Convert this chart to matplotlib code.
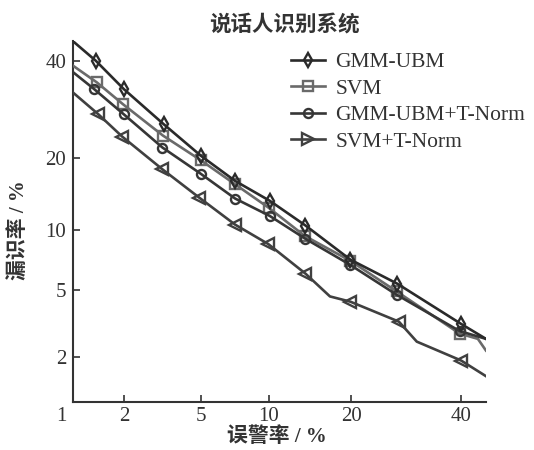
import math
from statistics import NormalDist
import numpy as np
import matplotlib
matplotlib.use("Agg")
import matplotlib.pyplot as plt
from matplotlib.lines import Line2D
from matplotlib.transforms import ScaledTranslation

# ---------------- data (percent) ----------------
series_names = ["GMM-UBM", "SVM", "GMM-UBM+T-Norm", "SVM+T-Norm"]

gmm_far = [1.0, 1.37, 1.99, 3.27, 5.03, 7.2, 10.1, 13.9, 19.9, 27.6, 40.0, 45.2]
gmm_miss = [44.7, 40.1, 33.6, 26.2, 20.3, 16.3, 13.5, 10.5, 7.2, 5.4, 3.2, 2.6]

svm_far = [1.0, 1.39, 1.97, 3.24, 5.0, 7.2, 10.0, 13.8, 19.9, 27.5, 39.7, 43.5, 45.2]
svm_miss = [38.9, 35.1, 30.3, 24.0, 19.6, 15.8, 12.6, 9.4, 7.1, 4.9, 2.8, 2.6, 2.2]

gmmt_far = [1.0, 1.34, 1.99, 3.22, 5.0, 7.2, 10.1, 13.9, 19.8, 27.5, 39.7, 45.2]
gmmt_miss = [37.4, 33.6, 28.2, 21.8, 17.4, 13.8, 11.6, 9.1, 6.8, 4.7, 2.9, 2.6]

svmt_far = [1.0, 1.42, 1.95, 3.22, 4.93, 7.2, 9.95, 13.9, 17.0, 19.9, 27.9, 31.2, 40.0, 45.2]
svmt_miss = [32.8, 28.2, 23.8, 18.1, 13.9, 10.6, 8.6, 6.1, 4.6, 4.3, 3.3, 2.5, 1.9, 1.5]

gmm_marks = [1, 2, 3, 4, 5, 6, 7, 8, 9, 10]
svm_marks = [1, 2, 3, 4, 5, 6, 7, 8, 9, 10]
gmmt_marks = [1, 2, 3, 4, 5, 6, 7, 8, 9, 10]
svmt_marks = [1, 2, 3, 4, 5, 6, 7, 9, 10, 12]

x_ticks = [1, 2, 5, 10, 20, 40]
x_ticklabels = ["1", "2", "5", "10", "20", "40"]
y_ticks = [2, 5, 10, 20, 40]
y_ticklabels = ["2", "5", "10", "20", "40"]

title_text = "说话人识别系统"
xlabel_text = "误警率 / %"
ylabel_text = "漏识率 / %"

# ---------------- probit scale ----------------
_nd = NormalDist()
_ppf = np.vectorize(lambda p: _nd.inv_cdf(min(max(p, 1e-9), 1 - 1e-9)), otypes=[float])
_cdf = np.vectorize(lambda z: 0.5 * (1 + math.erf(z / math.sqrt(2))), otypes=[float])


def fwd(p):
    p = np.asarray(p, dtype=float)
    p = np.where(np.isfinite(p), p, 50.0)
    return _ppf(p / 100.0)


def inv(z):
    z = np.asarray(z, dtype=float)
    z = np.where(np.isfinite(z), z, 0.0)
    return 100.0 * _cdf(z)


fig = plt.figure(figsize=(5.34, 4.5), dpi=100)
ax = fig.add_axes([0.137, 0.107, 0.773, 0.802])
ax.set_xscale("function", functions=(fwd, inv))
ax.set_yscale("function", functions=(fwd, inv))

c_dark = "#2a2a2a"
c_gmmt = "#363636"
c_svm = "#6a6a6a"
c_svmt = "#404040"
lw = 1.9
mw = 1.7

ax.plot(gmm_far, gmm_miss, color=c_dark, lw=lw, marker="d", ms=7.5, mfc="none",
        mec=c_dark, mew=mw, markevery=gmm_marks, zorder=4)
ax.plot(svm_far, svm_miss, color=c_svm, lw=lw, marker="s", ms=6.5, mfc="none",
        mec=c_svm, mew=mw, markevery=svm_marks, zorder=3)
ax.plot(gmmt_far, gmmt_miss, color=c_gmmt, lw=lw, marker="o", ms=6.5, mfc="none",
        mec=c_gmmt, mew=mw, markevery=gmmt_marks, zorder=3)
ax.plot(svmt_far, svmt_miss, color=c_svmt, lw=lw, marker="<", ms=8, mfc="none",
        mec=c_svmt, mew=mw, markevery=svmt_marks, zorder=3)

ax.set_xlim(1.0, 45.2)
ax.set_ylim(1.0, 44.8)

ax.set_xticks(x_ticks)
ax.set_xticklabels(x_ticklabels)
ax.set_yticks(y_ticks)
ax.set_yticklabels(y_ticklabels)
ax.xaxis.set_minor_locator(matplotlib.ticker.NullLocator())
ax.yaxis.set_minor_locator(matplotlib.ticker.NullLocator())

for s in ["top", "right"]:
    ax.spines[s].set_visible(False)
for s in ["left", "bottom"]:
    ax.spines[s].set_color("#333333")
    ax.spines[s].set_linewidth(1.5)

ax.tick_params(axis="both", direction="in", length=5, width=1.2, color="#333333",
               labelsize=15, labelcolor="#333333")
ax.tick_params(axis="x", pad=4)
ax.tick_params(axis="y", pad=5)
for lab in ax.get_xticklabels() + ax.get_yticklabels():
    lab.set_family("Liberation Serif")

lab1 = ax.get_xticklabels()[0]
lab1.set_transform(lab1.get_transform() + ScaledTranslation(-0.116, 0, fig.dpi_scale_trans))

cjk = ["Liberation Serif", "Noto Sans CJK SC"]
fig.text(0.532, 1 - 24 / 450, title_text, ha="center", va="center",
         fontsize=15.5, fontweight="bold", family=["Noto Sans CJK SC"], color="#333333")
ax.set_xlabel(xlabel_text, fontsize=15, fontweight="bold", family=cjk, color="#333333")
ax.xaxis.set_label_coords(0.494, -0.098)
ax.xaxis.label.set_va("center")
ax.set_ylabel(ylabel_text, fontsize=15, fontweight="bold", family=cjk, color="#333333")
ax.yaxis.set_label_coords(-0.1316, 0.476)
ax.yaxis.label.set_va("center")

handles = [
    Line2D([], [], color=c_dark, lw=lw, marker="d", ms=7.5, mfc="none", mec=c_dark, mew=mw),
    Line2D([], [], color=c_svm, lw=lw, marker="s", ms=6.5, mfc="none", mec=c_svm, mew=mw),
    Line2D([], [], color=c_gmmt, lw=lw, marker="o", ms=6.5, mfc="none", mec=c_gmmt, mew=mw),
    Line2D([], [], color=c_svmt, lw=lw, marker=">", ms=8, mfc="none", mec=c_svmt, mew=mw),
]
leg = fig.legend(handles, series_names, loc="upper left",
                 bbox_to_anchor=(291 / 534, 1 - 52 / 450), frameon=False,
                 borderpad=0, borderaxespad=0, handlelength=1.6, handletextpad=0.45,
                 labelspacing=0.3, prop={"family": "Liberation Serif", "size": 15.5})
for t in leg.get_texts():
    t.set_color("#333333")

fig.savefig("out.png", dpi=100)
